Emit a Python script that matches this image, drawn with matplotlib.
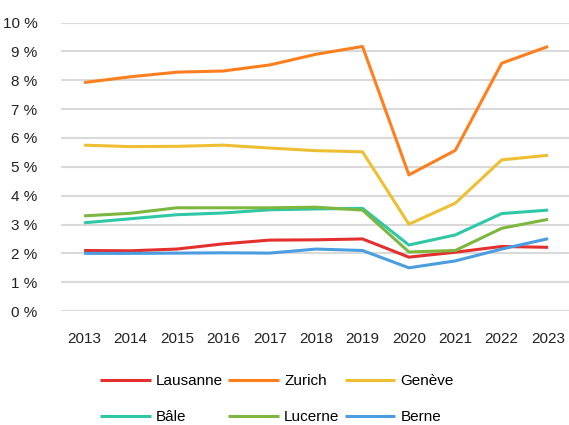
import matplotlib
matplotlib.use('Agg')
import matplotlib.pyplot as plt
from matplotlib.ticker import FuncFormatter

# Data (rate, %)
years = ['2013', '2014', '2015', '2016', '2017', '2018', '2019', '2020', '2021', '2022', '2023']
lausanne = [2.10, 2.09, 2.15, 2.33, 2.46, 2.47, 2.50, 1.87, 2.04, 2.24, 2.21]
zurich = [7.92, 8.12, 8.28, 8.32, 8.53, 8.90, 9.17, 4.72, 5.57, 8.59, 9.17]
geneve = [5.75, 5.70, 5.71, 5.75, 5.65, 5.56, 5.52, 3.01, 3.74, 5.24, 5.40]
bale = [3.06, 3.20, 3.34, 3.40, 3.51, 3.54, 3.56, 2.29, 2.64, 3.38, 3.50]
lucerne = [3.30, 3.39, 3.58, 3.58, 3.58, 3.60, 3.50, 2.05, 2.10, 2.87, 3.18]
berne = [2.00, 2.00, 2.01, 2.02, 2.01, 2.15, 2.10, 1.50, 1.74, 2.15, 2.51]

series = [
    ('Lausanne', lausanne, '#E3302F'),
    ('Zurich', zurich, '#FF7F1E'),
    ('Genève', geneve, '#EEBE33'),
    ('Bâle', bale, '#2EC8A6'),
    ('Lucerne', lucerne, '#7DB73F'),
    ('Berne', berne, '#4A9DE0'),
]

plt.rcParams['font.family'] = ['Liberation Sans', 'DejaVu Sans']

fig = plt.figure(figsize=(5.69, 4.25), dpi=100)
ax = fig.add_axes([0.107, 0.268, 0.893, 0.679])

x = range(len(years))
lines = []
for name, vals, color in series:
    ln, = ax.plot(x, vals, color=color, linewidth=2.2, label=name, solid_capstyle='butt')
    lines.append(ln)

ax.set_ylim(0, 10)
ax.set_xlim(-0.5, 10.45)
ax.set_yticks(range(0, 11))
ax.yaxis.set_major_formatter(FuncFormatter(lambda v, p: f"{int(v)} %"))
ax.set_xticks(list(x))
ax.set_xticklabels(years)
ax.tick_params(axis='both', length=0, labelsize=11, colors='#222222')
ax.tick_params(axis='y', pad=17)
ax.tick_params(axis='x', pad=15)
ax.grid(axis='y', color='#D9D9D9', linewidth=1.5)
ax.set_axisbelow(True)
for s in ax.spines.values():
    s.set_visible(False)

# legend filled row by row (3 per row)
order = [0, 3, 1, 4, 2, 5]
fig.legend([lines[i] for i in order], [series[i][0] for i in order],
           loc='center', bbox_to_anchor=(0.487, 0.061), ncol=3, frameon=False,
           fontsize=11, handlelength=3.3, handletextpad=0.35, columnspacing=0.35,
           labelspacing=1.45)

fig.savefig('out.png', dpi=100)
